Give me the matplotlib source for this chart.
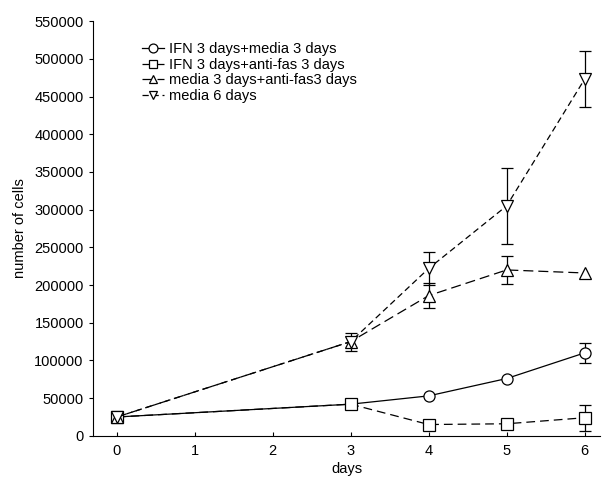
import numpy as np
import matplotlib.pyplot as plt

plt.rcParams['font.family'] = ['Liberation Sans', 'DejaVu Sans']

days = [0, 3, 4, 5, 6]

# cell counts per group
ifn_media = [25000, 42000, 53000, 76000, 110000]
ifn_media_err = [0, 0, 0, 0, 13000]

ifn_antifas = [25000, 42000, 15000, 16000, 24000]
ifn_antifas_err = [0, 0, 0, 5000, 17000]

media_antifas = [25000, 125000, 186000, 220000, 216000]
media_antifas_err = [0, 0, 17000, 18000, 0]

media6 = [25000, 125000, 222000, 305000, 473000]
media6_err = [0, 12000, 22000, 50000, 37000]

labels = ["IFN 3 days+media 3 days",
          "IFN 3 days+anti-fas 3 days",
          "media 3 days+anti-fas3 days",
          "media 6 days"]

fig = plt.figure(figsize=(6.02, 4.8), dpi=100)
ax = fig.add_axes([0.154, 0.092, 0.843, 0.864])

series = [
    (ifn_media, ifn_media_err, 'o', '-'),
    (ifn_antifas, ifn_antifas_err, 's', (0, (7, 4))),
    (media_antifas, media_antifas_err, '^', (0, (8, 4))),
    (media6, media6_err, 'v', (0, (5, 3))),
]

for (vals, err, mk, ls), lab in zip(series, labels):
    yerr = np.array(err, dtype=float)
    ax.errorbar(days, vals, yerr=np.where(yerr > 0, yerr, np.nan), fmt='none',
                ecolor='black', elinewidth=0.9, capsize=4, capthick=0.9, zorder=2)
    ax.plot(days, vals, color='black', linestyle=ls, linewidth=0.9, marker=mk,
            markersize=8, markerfacecolor='white', markeredgecolor='black',
            markeredgewidth=0.9, label=lab, zorder=3)

ax.set_xlim(-0.31, 6.2)
ax.set_ylim(0, 550000)
ax.set_xticks(range(7))
ax.set_yticks(np.arange(0, 550001, 50000))
ax.tick_params(axis='x', direction='in', length=3, labelsize=10.5, pad=6)
ax.tick_params(axis='y', direction='out', length=3, labelsize=10.5)
ax.spines['top'].set_visible(False)
ax.spines['right'].set_visible(False)
ax.set_xlabel("days", fontsize=10.5, labelpad=3)
ax.set_ylabel("number of cells", fontsize=10.5, labelpad=5)

ax.legend(loc='upper left', bbox_to_anchor=(0.098, 0.95), frameon=False,
          fontsize=10.5, handlelength=1.5, handletextpad=0.3, labelspacing=0.12,
          markerscale=0.8, borderaxespad=0, borderpad=0)

fig.savefig("out.png", dpi=100)
